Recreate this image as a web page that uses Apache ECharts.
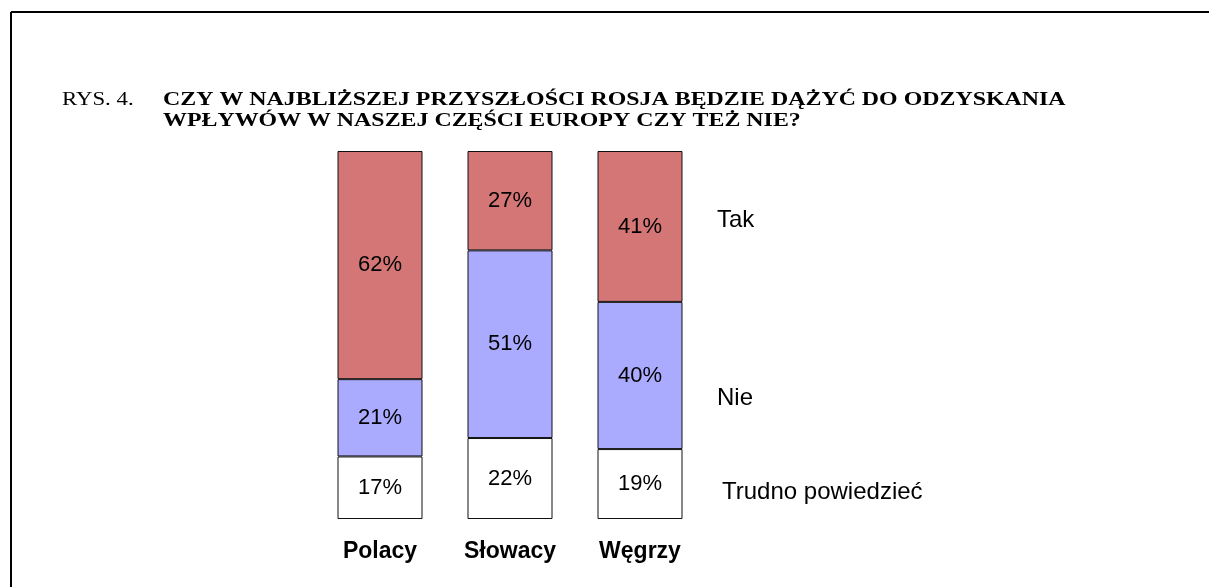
<!DOCTYPE html>
<html>
<head>
<meta charset="utf-8">
<script src="https://cdn.jsdelivr.net/npm/echarts@6/dist/echarts.min.js"></script>
<style>
  html, body { margin: 0; padding: 0; background: #fff; }
  #chart { width: 1209px; height: 587px; }
</style>
</head>
<body>
<div id="chart"></div>
<script>
// Data
const categories = ['Polacy', 'Słowacy', 'Węgrzy']
const trudno = [17, 22, 19]
const nie = [21, 51, 40]
const tak = [62, 27, 41]
const seriesNames = ['Tak', 'Nie', 'Trudno powiedzieć']

const chart = echarts.init(document.getElementById('chart'))

const segLabel = {
  show: true,
  position: 'inside',
  formatter: '{c}%',
  color: '#000',
  fontFamily: 'Liberation Sans, Arial, sans-serif',
  fontSize: 22
}

const makeSeries = (name, data, color) => ({
  name: name,
  type: 'bar',
  stack: 'total',
  barWidth: 85,
  data: data,
  itemStyle: { color: color, borderColor: '#111', borderWidth: 1 },
  label: segLabel,
  emphasis: { disabled: true }
})

const sideFont = '24px "Liberation Sans", Arial, sans-serif'
const titleFont = '"Liberation Serif", "Times New Roman", serif'

// title text is wide but short in the source, so stretch it horizontally
const titleText = (x, y, text, bold, sx) => ({
  type: 'text', x: x, y: y, scaleX: sx, originX: 0,
  style: { text: text, fill: '#000', font: (bold ? 'bold ' : '') + '19.5px ' + titleFont, verticalAlign: 'middle' }
})

chart.setOption({
  animation: false,
  backgroundColor: '#fff',
  grid: { left: 315, width: 390, top: 151, height: 368 },
  xAxis: {
    type: 'category',
    data: categories,
    axisLine: { show: false },
    axisTick: { show: false },
    axisLabel: {
      margin: 21,
      color: '#000',
      fontWeight: 'bold',
      fontSize: 23,
      fontFamily: 'Liberation Sans, Arial, sans-serif'
    }
  },
  yAxis: { type: 'value', min: 0, max: 100, show: false },
  series: [
    makeSeries(seriesNames[2], trudno, '#ffffff'),
    makeSeries(seriesNames[1], nie, '#aaaaff'),
    makeSeries(seriesNames[0], tak, '#d47676')
  ],
  graphic: [
    // frame
    { type: 'line', shape: { x1: 11, y1: 12, x2: 1209, y2: 12 }, style: { stroke: '#000', lineWidth: 2 } },
    { type: 'line', shape: { x1: 11, y1: 12, x2: 11, y2: 587 }, style: { stroke: '#000', lineWidth: 2 } },
    // title
    titleText(62, 100, 'RYS. 4.', false, 1.17),
    titleText(163, 100, 'CZY W NAJBLIŻSZEJ PRZYSZŁOŚCI ROSJA BĘDZIE DĄŻYĆ DO ODZYSKANIA', true, 1.225),
    titleText(163, 121, 'WPŁYWÓW W NASZEJ CZĘŚCI EUROPY CZY TEŻ NIE?', true, 1.225),
    // side labels
    { type: 'text', x: 717, y: 220, style: { text: seriesNames[0], fill: '#000', font: sideFont, verticalAlign: 'middle' } },
    { type: 'text', x: 717, y: 398, style: { text: seriesNames[1], fill: '#000', font: sideFont, verticalAlign: 'middle' } },
    { type: 'text', x: 722, y: 492, style: { text: seriesNames[2], fill: '#000', font: sideFont, verticalAlign: 'middle' } }
  ]
})
</script>
</body>
</html>
